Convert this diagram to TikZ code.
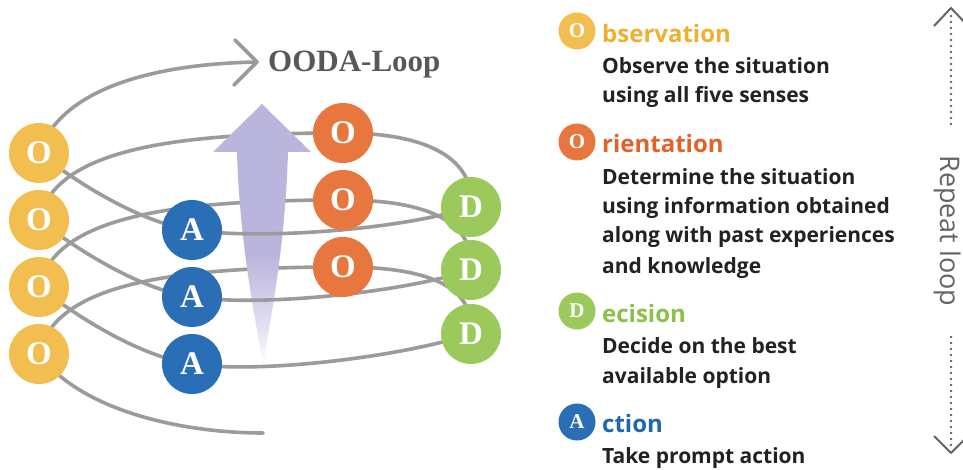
\documentclass[tikz,border=0pt]{standalone}
\usepackage{fontspec}
\newfontfamily\sansf{Open Sans}
\newfontfamily\serifb{Liberation Serif}
\definecolor{spiralgray}{RGB}{155,155,155}
\definecolor{ycol}{RGB}{242,190,80}
\definecolor{ocol}{RGB}{232,119,63}
\definecolor{gcol}{RGB}{156,201,91}
\definecolor{bcol}{RGB}{42,110,182}
\definecolor{ytxt}{RGB}{238,176,48}
\definecolor{otxt}{RGB}{228,98,42}
\definecolor{gtxt}{RGB}{140,192,72}
\definecolor{btxt}{RGB}{30,104,178}
\definecolor{bodytxt}{RGB}{34,34,34}
\definecolor{titlegray}{RGB}{88,88,88}
\definecolor{repgray}{RGB}{100,100,100}
\definecolor{arrowc}{RGB}{186,181,220}
\pgfdeclarelayer{back}
\pgfdeclarelayer{mid}
\pgfsetlayers{back,mid,main}
\pgfdeclareverticalshading{arrowfade}{100bp}{color(0bp)=(white); color(25bp)=(white); color(33bp)=(arrowc!45!white); color(46bp)=(arrowc); color(100bp)=(arrowc)}
\tikzset{
  spiral/.style={draw=spiralgray, line width=3.6pt, line cap=round},
  bigc/.style={circle, minimum size=60pt, inner sep=0pt, text=white, font=\serifb\bfseries\fontsize{33}{33}\selectfont},
  smallc/.style={circle, minimum size=37pt, inner sep=0pt, text=white, font=\serifb\bfseries\fontsize{21}{21}\selectfont},
  headtxt/.style={anchor=base west, inner sep=0pt, font=\sansf\bfseries\fontsize{24}{24}\selectfont},
  bodyline/.style={anchor=base west, inner sep=0pt, text=bodytxt, font=\sansf\bfseries\fontsize{21}{21}\selectfont},
  repline/.style={draw=repgray, line width=2pt},
  repdots/.style={draw=repgray, line width=2.6pt, line cap=round, dash pattern=on 0pt off 6pt},
}
\begin{document}
\begin{tikzpicture}[x=1pt,y=-1pt]
\useasboundingbox (0,0) rectangle (963,470);
\begin{pgfonlayer}{back}
\fill[white] (0,0) rectangle (963,470);
\end{pgfonlayer}

% big circles
\node[bigc, fill=ycol] (y1) at (39,153) {O};
\node[bigc, fill=ycol] (y2) at (39,220) {O};
\node[bigc, fill=ycol] (y3) at (39,287) {O};
\node[bigc, fill=ycol] (y4) at (39,354) {O};
\node[bigc, fill=ocol] (r1) at (343,133) {O};
\node[bigc, fill=ocol] (r2) at (343,200) {O};
\node[bigc, fill=ocol] (r3) at (343,267) {O};
\node[bigc, fill=gcol] (d1) at (471,207) {D};
\node[bigc, fill=gcol] (d2) at (471,270) {D};
\node[bigc, fill=gcol] (d3) at (471,334) {D};
\node[bigc, fill=bcol] (a1) at (192,230) {A};
\node[bigc, fill=bcol] (a2) at (192,297) {A};
\node[bigc, fill=bcol] (a3) at (192,364) {A};

\coordinate (tail) at (263,433);
\coordinate (tip) at (257,62);
\coordinate (chevA) at (235,40);
\coordinate (chevB) at (234,85);

% back arcs (behind arrow)
\begin{pgfonlayer}{back}
\draw[spiral] (y2.center) .. controls (55,150) and (170,133) .. (r1.center)
              .. controls (430,133) and (475,160) .. (d1.center);
\draw[spiral] (y3.center) .. controls (55,217) and (170,200) .. (r2.center)
              .. controls (430,200) and (475,223) .. (d2.center);
\draw[spiral] (y4.center) .. controls (55,284) and (170,267) .. (r3.center)
              .. controls (430,267) and (475,287) .. (d3.center);
\end{pgfonlayer}

% purple arrow
\begin{pgfonlayer}{mid}
\shade[shading=arrowfade] (262,104) -- (311,152) -- (288,152)
   .. controls (285,250) and (270,320) .. (263,365)
   .. controls (256,320) and (240,250) .. (237,152) -- (213,152) -- cycle;
% front arcs
\draw[spiral] (d1.center) .. controls (400,230) and (260,240) .. (a1.center)
              .. controls (142,223) and (80,185) .. (y1.center);
\draw[spiral] (d2.center) .. controls (400,293) and (260,307) .. (a2.center)
              .. controls (142,290) and (80,252) .. (y2.center);
\draw[spiral] (d3.center) .. controls (400,357) and (260,374) .. (a3.center)
              .. controls (142,357) and (80,319) .. (y3.center);
\draw[spiral] (y4.center) .. controls (80,410) and (180,433) .. (tail);
\draw[spiral] (y1.center) .. controls (60,90) and (150,64) .. (tip);
\draw[spiral, line join=round] (chevA) -- (tip) -- (chevB);
\end{pgfonlayer}

\node[anchor=base west, inner sep=0pt, text=titlegray, font=\serifb\bfseries\fontsize{31}{31}\selectfont] (title) at (268,72) {OODA-Loop};

% legend
\node[smallc, fill=ycol] (ly) at (577,31) {O};
\node[headtxt, text=ytxt] (hy) at (602,43) {bservation};
\node[bodyline] (ly1) at (602,74) {Observe the situation};
\node[bodyline] (ly2) at (602,103) {using all five senses};

\node[smallc, fill=ocol] (lo) at (577,142) {O};
\node[headtxt, text=otxt] (ho) at (602,153) {rientation};
\node[bodyline] (lo1) at (602,185) {Determine the situation};
\node[bodyline] (lo2) at (602,214) {using information obtained};
\node[bodyline] (lo3) at (602,243) {along with past experiences};
\node[bodyline] (lo4) at (602,273) {and knowledge};

\node[smallc, fill=gcol] (lg) at (577,311) {D};
\node[headtxt, text=gtxt] (hg) at (602,322) {ecision};
\node[bodyline] (lg1) at (602,353) {Decide on the best};
\node[bodyline] (lg2) at (602,383) {available option};

\node[smallc, fill=bcol] (lb) at (577,422) {A};
\node[headtxt, text=btxt] (hb) at (602,432) {ction};
\node[bodyline] (lb1) at (602,463) {Take prompt action};

% repeat loop
\node[rotate=-90, inner sep=0pt, text=repgray, font=\sansf\fontsize{27}{27}\selectfont] (rl) at (947,231) {Repeat loop};
\coordinate (rt) at (951,8);
\coordinate (rt2) at (951,125);
\coordinate (rb) at (951,453);
\coordinate (rb2) at (951,337);
\coordinate (rtl) at (934,26);
\coordinate (rtr) at (968,26);
\coordinate (rbl) at (934,436);
\coordinate (rbr) at (968,436);
\draw[repdots] ([yshift=-8pt]rt) -- (rt2);
\draw[repdots] (rb2) -- ([yshift=8pt]rb);
\draw[repline, line join=round] (rtl) -- (rt) -- (rtr);
\draw[repline, line join=round] (rbl) -- (rb) -- (rbr);
\end{tikzpicture}
\end{document}
